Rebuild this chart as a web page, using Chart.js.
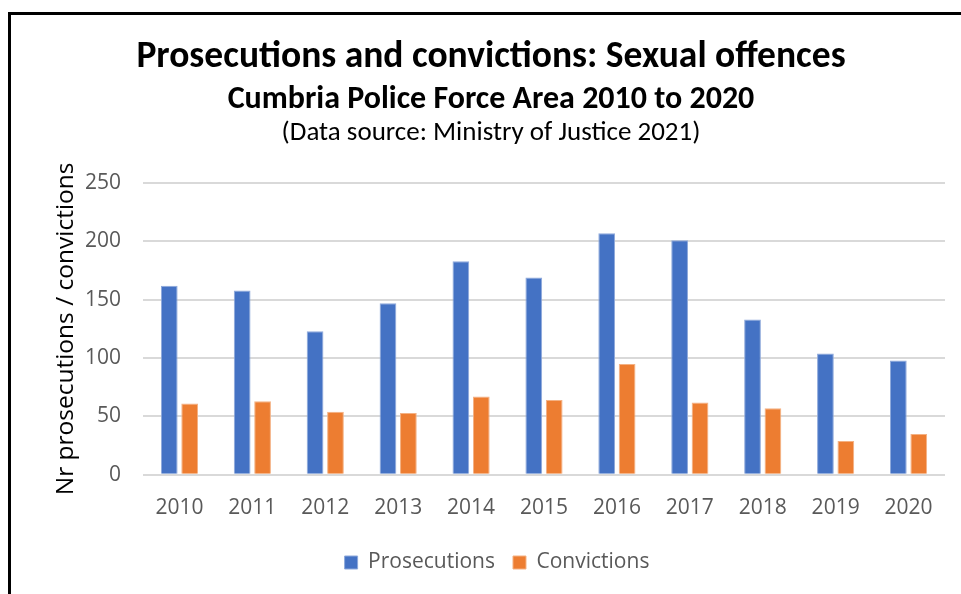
<!DOCTYPE html>
<html>
<head>
<meta charset="utf-8">
<script src="https://cdn.jsdelivr.net/npm/chart.js@4/dist/chart.umd.min.js"></script>
<style>
  html, body { margin: 0; padding: 0; background: #fff; overflow: hidden; width: 961px; height: 594px; }
  #wrap { position: absolute; left: 0; top: 0; width: 982px; height: 594px; }
  #frame { position: absolute; left: 8px; top: 12px; width: 990px; height: 600px;
           border-left: 3px solid #000; border-top: 3px solid #000; pointer-events: none; }
</style>
</head>
<body>
<div id="wrap"><canvas id="chart" width="982" height="594"></canvas></div>
<div id="frame"></div>
<script>
// Sexual offences in the Cumbria police force area, by year
const years = ['2010', '2011', '2012', '2013', '2014', '2015', '2016', '2017', '2018', '2019', '2020'];
const prosecutions = [162, 158, 123, 147, 183, 169, 207, 201, 133, 104, 98];
const convictions = [61, 63, 54, 53, 67, 64, 95, 62, 57, 29, 35];
const yTicks = [0, 50, 100, 150, 200, 250];

const headerLines = [
  { text: 'Prosecutions and convictions: Sexual offences', size: 37.5, weight: 'bold', y: 58 },
  { text: 'Cumbria Police Force Area 2010 to 2020', size: 32, weight: 'bold', y: 100 },
  { text: '(Data source: Ministry of Justice 2021)', size: 27, weight: 'normal', y: 133 }
];

const titleFont = "Carlito, 'Liberation Sans Narrow', 'Open Sans', sans-serif";
const axisFont = "'Open Sans', 'Noto Sans', sans-serif";

// Centred heading block above the plot
const headerPlugin = {
  id: 'header',
  afterDraw(chart) {
    const ctx = chart.ctx;
    ctx.save();
    ctx.fillStyle = '#000';
    ctx.textAlign = 'center';
    ctx.textBaseline = 'middle';
    headerLines.forEach(line => {
      ctx.font = line.weight + ' ' + line.size + 'px ' + titleFont;
      ctx.fillText(line.text, chart.width / 2, line.y);
    });
    ctx.restore();
  }
};

new Chart(document.getElementById('chart'), {
  type: 'bar',
  data: {
    labels: years,
    datasets: [
      { label: 'Prosecutions', data: prosecutions, backgroundColor: '#4472C4',
        borderColor: '#8EA9DB', borderWidth: 1, categoryPercentage: 0.56, barPercentage: 0.82 },
      { label: 'Convictions', data: convictions, backgroundColor: '#ED7D31',
        borderColor: '#F4B183', borderWidth: 1, categoryPercentage: 0.56, barPercentage: 0.82 }
    ]
  },
  options: {
    responsive: false,
    animation: false,
    layout: { padding: { left: 49, right: 37, top: 183, bottom: 11 } },
    plugins: {
      title: { display: false },
      legend: {
        position: 'bottom',
        labels: {
          color: '#595959',
          font: { family: axisFont, size: 21 },
          boxWidth: 13, boxHeight: 13, padding: 18
        }
      },
      tooltip: { enabled: false }
    },
    scales: {
      x: {
        grid: { display: false },
        border: { display: false },
        ticks: { color: '#595959', font: { family: axisFont, size: 21 }, padding: 13 }
      },
      y: {
        min: 0, max: 250,
        afterBuildTicks(scale) { scale.ticks = yTicks.map(v => ({ value: v })); },
        afterFit(scale) { scale.width = 94; },
        grid: { color: '#D9D9D9', lineWidth: 2, drawTicks: false },
        border: { display: false },
        ticks: { color: '#595959', font: { family: axisFont, size: 21 }, padding: 22 },
        title: {
          display: true,
          text: 'Nr prosecutions / convictions',
          color: '#000',
          font: { family: axisFont, size: 24.5, lineHeight: 1.2 },
          padding: { top: 2, bottom: 0 }
        }
      }
    }
  },
  plugins: [headerPlugin]
});
</script>
</body>
</html>
